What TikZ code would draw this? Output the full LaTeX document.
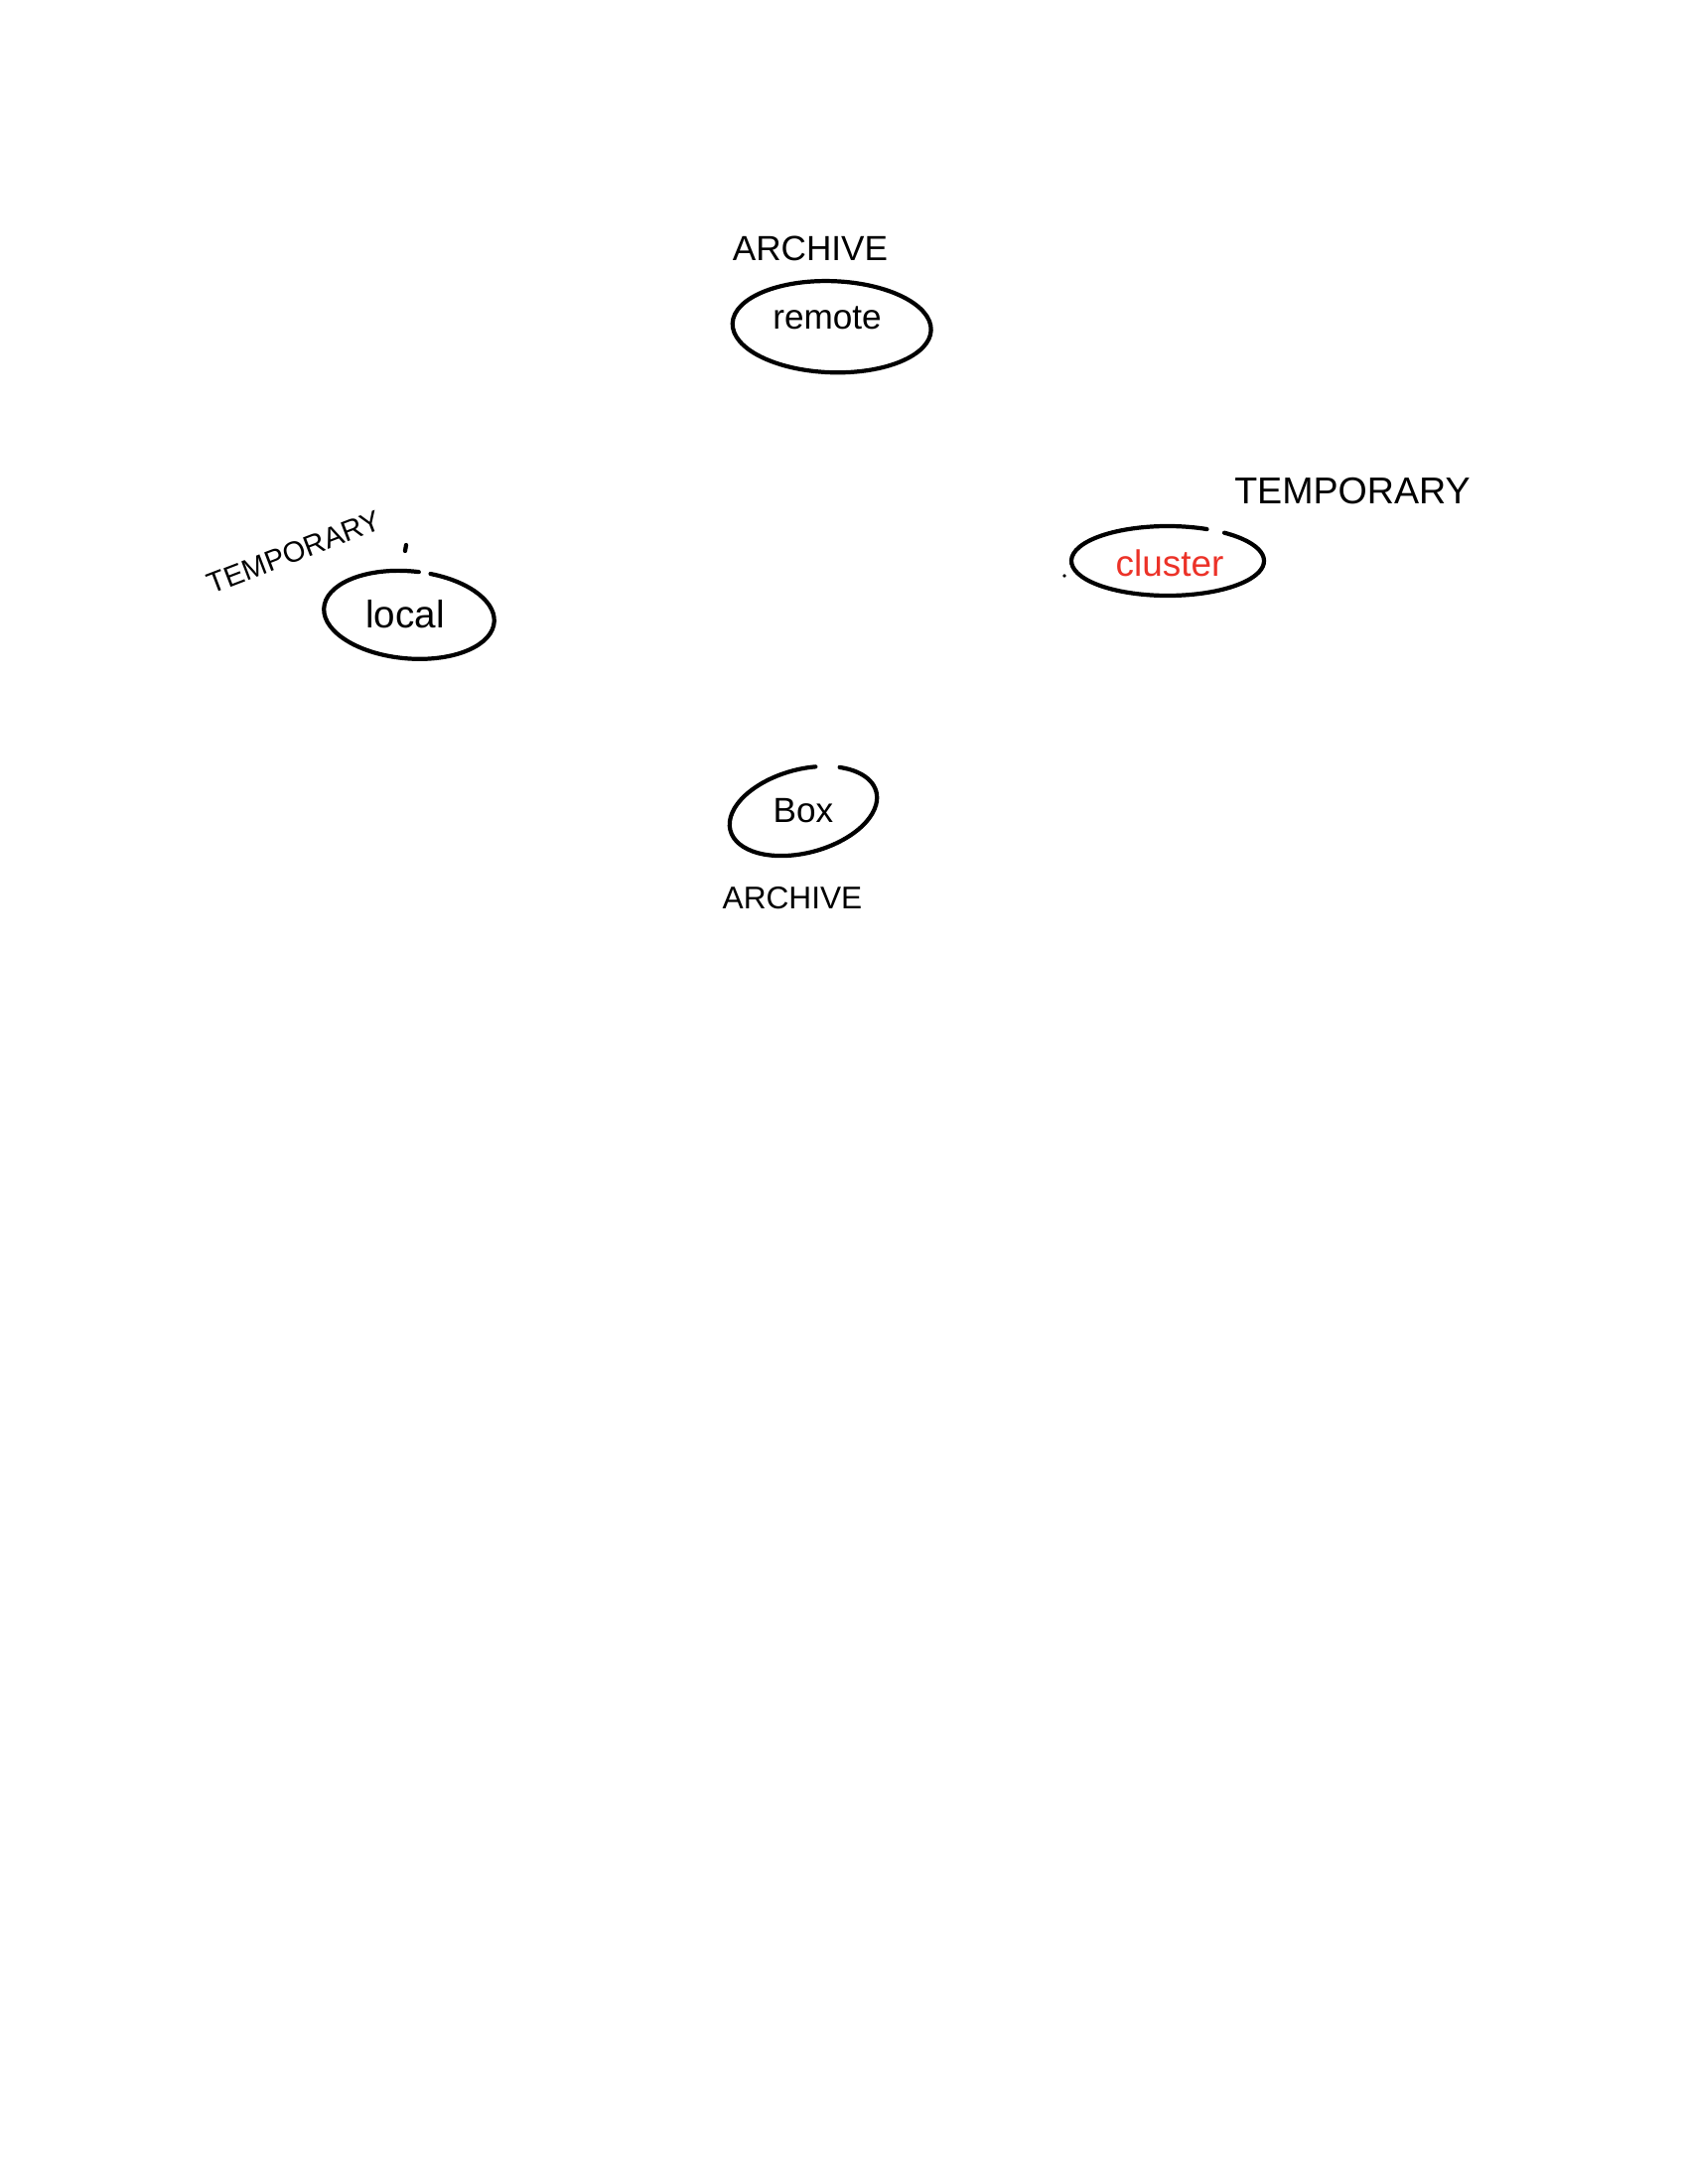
\documentclass[tikz,border=0pt]{standalone}
\usepackage{fontspec}
\setmainfont{Liberation Sans}
\usetikzlibrary{calc}
\definecolor{clusterred}{RGB}{236,50,40}

\begin{document}
\begin{tikzpicture}
                [x=10mm, y=10mm,
                nsty/.style={inner sep=0pt, font=\fontsize{10}{12}\selectfont},
                tsty/.style={inner sep=0pt, font=\fontsize{10}{12}\selectfont},
                esty/.style={line width=1.2pt, line cap=round}]
                \useasboundingbox (0,0) rectangle (17,-22);
                % nodes
                \node[nsty] (remote)  at (8.33,-3.20) {remote};
                \node[nsty, font=\fontsize{11}{13}\selectfont] (local) at (4.08,-6.19) {local};
                \node[nsty, text=clusterred, font=\fontsize{10.5}{12}\selectfont] (cluster) at (11.78,-5.67) {cluster};
                \node[nsty] (box)     at (8.09,-8.17) {Box};
                % labels
                \node[tsty] (archtop)  at (8.16,-2.50) {ARCHIVE};
                \node[tsty, rotate=21, font=\fontsize{8.3}{10}\selectfont] (templeft) at (2.96,-5.56) {TEMPORARY};
                \node[tsty, font=\fontsize{10.7}{12}\selectfont] (tempright) at (13.62,-4.95) {TEMPORARY};
                \node[tsty, font=\fontsize{9}{11}\selectfont] (archbot) at (7.98,-9.05) {ARCHIVE};
                % rings
                \begin{scope}[shift={(remote.center)}, rotate=-2]
                    \draw[esty] (0.05,-0.09) ellipse [x radius=1.0, y radius=0.46];
                \end{scope}
                \begin{scope}[shift={(local.center)}, rotate=-5]
                    \draw[esty] ($(0.04,0)+(86:0.86 and 0.44)$) arc[start angle=86, end angle=438, x radius=0.86, y radius=0.44];
                \end{scope}
                \begin{scope}[shift={(cluster.center)}]
                    \draw[esty] ($(-0.02,0.02)+(66:0.97 and 0.35)$) arc[start angle=66, end angle=414, x radius=0.97, y radius=0.35];
                \end{scope}
                \begin{scope}[shift={(box.center)}, rotate=15]
                    \draw[esty] (72:0.76 and 0.42) arc[start angle=72, end angle=412, x radius=0.76, y radius=0.42];
                \end{scope}
                % stray marks
                \draw[esty] (4.09,-5.49) -- (4.08,-5.55);
                \fill (10.72,-5.80) circle (0.018);
\end{tikzpicture}
\end{document}
